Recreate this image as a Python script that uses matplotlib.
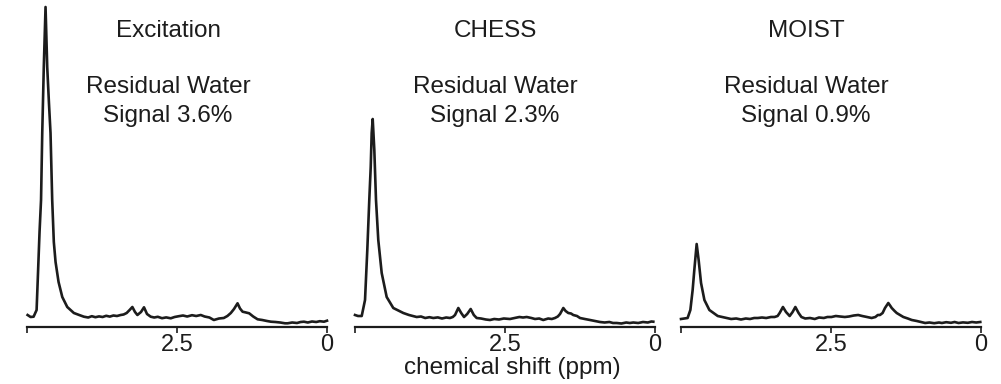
import matplotlib
matplotlib.use("Agg")
import matplotlib.pyplot as plt

plt.rcParams["font.family"] = ["Liberation Sans", "DejaVu Sans"]

# Spectra: chemical shift (ppm) and intensity (arb. units)
exc_ppm = [4.99, 4.94, 4.89, 4.84, 4.816, 4.791, 4.766, 4.746, 4.72, 4.691,
           4.663, 4.635, 4.608, 4.58, 4.553, 4.524, 4.474, 4.412, 4.329, 4.219,
           4.13, 4.052, 3.98, 3.92, 3.86, 3.80, 3.74, 3.68, 3.62, 3.56,
           3.50, 3.439, 3.39, 3.339, 3.29, 3.244, 3.20, 3.16, 3.10, 3.05,
           3.00, 2.938, 2.88, 2.82, 2.75, 2.68, 2.604, 2.54, 2.47, 2.40,
           2.33, 2.25, 2.18, 2.104, 2.04, 1.96, 1.886, 1.80, 1.72, 1.66,
           1.603, 1.55, 1.491, 1.45, 1.407, 1.35, 1.297, 1.23, 1.157, 1.08,
           1.00, 0.935, 0.86, 0.78, 0.70, 0.656, 0.58, 0.50, 0.44, 0.384,
           0.32, 0.25, 0.18, 0.12, 0.05, 0.0]
exc_int = [12, 10, 10.3, 17, 55, 95, 127, 194, 260, 320,
           260, 225, 194, 127, 85, 65, 45, 30, 20, 14,
           12, 10.3, 9.5, 10.8, 9.8, 10.6, 10, 11.2, 10.4, 11.5,
           11, 12, 12.5, 14, 17, 20, 15, 12, 15, 19.7,
           13, 10.3, 9.5, 10.2, 8.8, 9.6, 8.7, 10, 10.8, 11.5,
           10.5, 11.8, 11, 12, 10.5, 9.5, 7, 8.5, 9, 11,
           14, 18, 23.7, 18.5, 15.3, 14.5, 13.7, 10.5, 7.7, 7,
           6, 5.3, 5, 4.5, 3.7, 3.7, 4.5, 4, 5, 5.3,
           4.5, 5.5, 5, 5.8, 5.3, 6.3]

chess_ppm = [5.0, 4.95, 4.888, 4.833, 4.795, 4.762, 4.738, 4.722, 4.705, 4.678,
             4.65, 4.612, 4.555, 4.472, 4.362, 4.195, 4.10, 3.972, 3.90, 3.83,
             3.76, 3.695, 3.62, 3.55, 3.48, 3.417, 3.37, 3.333, 3.278, 3.23,
             3.183, 3.13, 3.072, 3.02, 2.972, 2.90, 2.82, 2.75, 2.68, 2.60,
             2.52, 2.417, 2.34, 2.26, 2.20, 2.138, 2.06, 2.00, 1.93, 1.862,
             1.78, 1.72, 1.667, 1.62, 1.583, 1.528, 1.49, 1.445, 1.40, 1.362,
             1.30, 1.25, 1.17, 1.083, 1.00, 0.917, 0.84, 0.76, 0.70, 0.638,
             0.56, 0.48, 0.42, 0.362, 0.28, 0.20, 0.12, 0.06, 0.028]
chess_int = [12, 11, 11, 27, 77, 127, 160, 194, 208, 177,
             127, 87, 54, 30, 19, 14, 12, 10, 10.5, 9,
             9.8, 9, 9.6, 8.5, 9.5, 9, 10, 12, 19, 14,
             10, 13, 18, 12, 9, 8.5, 7.5, 7, 8, 7.5,
             8.5, 8, 9, 10, 9.5, 10, 9, 8, 8.5, 7,
             8.5, 8, 9, 10.5, 13, 19, 16, 14, 13.5, 12,
             11, 9, 8, 7, 6, 5, 4.5, 5, 4, 4,
             3.5, 4.5, 4, 4.5, 4, 5, 4.5, 5.5, 5.3]

moist_ppm = [5.0, 4.89, 4.844, 4.806, 4.778, 4.739, 4.706, 4.666, 4.61, 4.527,
             4.388, 4.164, 4.08, 4.00, 3.92, 3.85, 3.78, 3.719, 3.65, 3.58,
             3.50, 3.44, 3.39, 3.356, 3.301, 3.25, 3.189, 3.14, 3.094, 3.04,
             2.993, 2.93, 2.85, 2.771, 2.70, 2.62, 2.56, 2.492, 2.42, 2.35,
             2.269, 2.20, 2.12, 2.047, 1.98, 1.90, 1.823, 1.76, 1.72, 1.684,
             1.64, 1.60, 1.545, 1.51, 1.488, 1.44, 1.405, 1.35, 1.294, 1.22,
             1.154, 1.07, 1.00, 0.931, 0.86, 0.78, 0.70, 0.652, 0.58, 0.50,
             0.44, 0.375, 0.30, 0.22, 0.15, 0.08, 0.012]
moist_int = [8, 9, 17, 37, 57, 83, 67, 44, 27, 17,
             11, 8, 8.5, 7.5, 8.5, 8, 9, 9, 9.5, 9,
             10, 10, 11, 14, 20, 15, 11, 15, 20, 14,
             10, 8.5, 9, 8, 9.5, 9, 10, 10, 11, 10.5,
             10, 10.5, 11.5, 12, 11, 10, 9, 10, 12, 12,
             14, 19, 24, 21, 19, 16, 14, 12, 10, 8.5,
             7, 6, 5, 4, 4.5, 3.8, 4.5, 4, 4.8, 4.2,
             5, 4, 4.6, 4.2, 5, 4.5, 5]

titles = ["Excitation", "CHESS", "MOIST"]
residuals = ["3.6%", "2.3%", "0.9%"]
tick_vals = [5, 2.5, 0]
tick_labels = ["", "2.5", "0"]

W, H = 1001, 384
fig = plt.figure(figsize=(W / 100, H / 100), dpi=100)

lefts = [27, 355, 681]
text_centers = [168, 495, 806]
spectra = [(exc_ppm, exc_int), (chess_ppm, chess_int), (moist_ppm, moist_int)]
ink = "#1c1c1c"

for left, xc, (ppm, inten), title, res in zip(lefts, text_centers, spectra, titles, residuals):
    ax = fig.add_axes([left / W, (H - 327) / H, 300 / W, 322 / H])
    ax.plot(ppm, inten, color=ink, lw=1.9, clip_on=False, solid_joinstyle="round")
    ax.set_xlim(5, 0)
    ax.set_ylim(0, 322)
    for side in ["top", "left", "right"]:
        ax.spines[side].set_visible(False)
    ax.spines["bottom"].set_linewidth(1.6)
    ax.spines["bottom"].set_color(ink)
    ax.set_yticks([])
    ax.set_xticks(tick_vals)
    ax.set_xticklabels(tick_labels)
    ax.tick_params(axis="x", labelsize=17, length=4, width=1.2, pad=1,
                   color=ink, labelcolor=ink)

    fig.text(xc / W, 1 - 36.7 / H, title, ha="center", va="baseline",
             fontsize=17.5, color=ink)
    fig.text(xc / W, 1 - 93 / H, "Residual Water", ha="center", va="baseline",
             fontsize=17.5, color=ink)
    fig.text(xc / W, 1 - 121.7 / H, "Signal " + res, ha="center", va="baseline",
             fontsize=17.5, color=ink)

fig.text(512 / W, 1 - 374 / H, "chemical shift (ppm)", ha="center", va="baseline",
         fontsize=17.5, color=ink)

fig.savefig("out.png", dpi=100)
